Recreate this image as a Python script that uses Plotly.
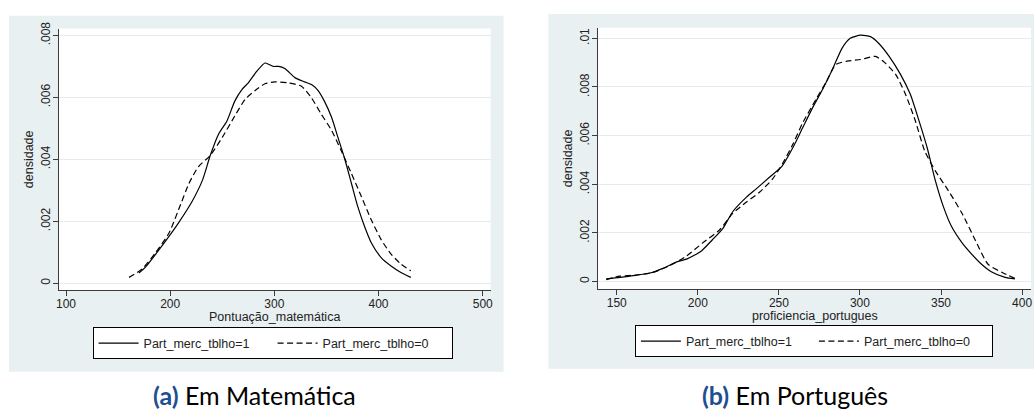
import plotly.graph_objects as go

# ---------------- data ----------------
# Panel (a) Em Matemática
mat_x1 = [170, 176, 187, 199, 208, 221, 231, 238.5, 246.5, 254.5, 262, 269, 275, 283, 291, 294.5,
          299, 304, 310, 320, 329, 336, 342, 348, 355, 361, 367.5, 374, 380, 386.5, 393, 402.5,
          412, 421.5, 431]
mat_y1 = [0.00033, 0.00051, 0.00098, 0.00152, 0.00195, 0.00264, 0.00333, 0.00413, 0.00482, 0.00524,
          0.00588, 0.00626, 0.00647, 0.00684, 0.00711, 0.00707, 0.00700, 0.00700, 0.00693, 0.00663,
          0.00650, 0.00641, 0.00622, 0.00588, 0.00535, 0.00471, 0.00402, 0.00322, 0.00248, 0.00184,
          0.00131, 0.00083, 0.00056, 0.00035, 0.00019]
mat_x0 = [160.5, 173, 186, 199, 208, 218, 227, 238.5, 250, 262, 272, 281.5, 291, 300.5, 313, 326,
          335.5, 345, 355, 364, 374, 383.5, 393, 402.5, 412, 421.5, 431]
mat_y0 = [0.00019, 0.00046, 0.00099, 0.00163, 0.00237, 0.00322, 0.00376, 0.00413, 0.00471, 0.00540,
          0.00594, 0.00622, 0.00644, 0.00650, 0.00647, 0.00636, 0.00599, 0.00546, 0.00493, 0.00429,
          0.00354, 0.00280, 0.00205, 0.00141, 0.00094, 0.00062, 0.00040]

# Panel (b) Em Português
por_x1 = [143.5, 152, 160, 170.5, 178.5, 187, 193, 202, 209, 215.5, 221.5, 230, 236, 244, 252, 258.5,
          264.5, 270.5, 277, 283, 289, 294, 300.5, 306.5, 311.5, 318, 325, 331, 336, 341.5, 346.5,
          351.5, 356.5, 363, 369, 375, 381, 389.5, 395.5]
por_y1 = [0.00011, 0.00017, 0.00024, 0.00035, 0.00054, 0.00081, 0.00092, 0.00125, 0.00172, 0.00219,
          0.00287, 0.00347, 0.00381, 0.00428, 0.00475, 0.00549, 0.00630, 0.00711, 0.00791, 0.00872,
          0.00960, 0.01000, 0.01013, 0.01007, 0.00980, 0.00926, 0.00852, 0.00771, 0.00670, 0.00549,
          0.00415, 0.00307, 0.00226, 0.00159, 0.00112, 0.00071, 0.00040, 0.00017, 0.00011]
por_x0 = [143.5, 152, 162, 172.5, 182.5, 193, 203, 213.5, 221.5, 230, 238, 246, 252, 258.5, 264.5,
          273, 279, 285, 292, 300.5, 309.5, 315.5, 322, 328, 334, 340, 346.5, 354.5, 363, 371, 379,
          387.5, 395.5]
por_y0 = [0.00008, 0.00022, 0.00027, 0.00038, 0.00065, 0.00105, 0.00159, 0.00213, 0.00280, 0.00327,
          0.00367, 0.00421, 0.00482, 0.00563, 0.00650, 0.00751, 0.00818, 0.00892, 0.00906, 0.00913,
          0.00926, 0.00899, 0.00852, 0.00771, 0.00664, 0.00536, 0.00455, 0.00374, 0.00280, 0.00172,
          0.00071, 0.00038, 0.00013]

series_names = ["Part_merc_tblho=1", "Part_merc_tblho=0"]
mat_xticks = [100, 200, 300, 400, 500]
mat_yticks = [0, 0.002, 0.004, 0.006, 0.008]
mat_yticktext = ["0", ".002", ".004", ".006", ".008"]
por_xticks = [150, 200, 250, 300, 350, 400]
por_yticks = [0, 0.002, 0.004, 0.006, 0.008, 0.01]
por_yticktext = ["0", ".002", ".004", ".006", ".008", ".01"]
x_titles = ["Pontuação_matemática", "proficiencia_portugues"]
y_title = "densidade"
captions = ["(a)", "Em Matemática", "(b)", "Em Português"]

# ---------------- figure ----------------
W, H = 1036, 409
FONT = "Liberation Sans, Arial, sans-serif"
BG = "#e9f0f2"
GRID = "#e4ecef"
AX = "#3c3c3c"


def px(x):
    return x / W


def py(y):
    return (H - y) / H


fig = go.Figure()
solid = dict(color="black", width=1.2, shape="spline", smoothing=0.6)
dashed = dict(color="black", width=1.2, dash="6px,3.5px", shape="spline", smoothing=0.6)

fig.add_trace(go.Scatter(x=mat_x1, y=mat_y1, mode="lines", name=series_names[0], line=solid,
                         xaxis="x", yaxis="y", legend="legend"))
fig.add_trace(go.Scatter(x=mat_x0, y=mat_y0, mode="lines", name=series_names[1], line=dashed,
                         xaxis="x", yaxis="y", legend="legend"))
fig.add_trace(go.Scatter(x=por_x1, y=por_y1, mode="lines", name=series_names[0], line=solid,
                         xaxis="x2", yaxis="y2", legend="legend2"))
fig.add_trace(go.Scatter(x=por_x0, y=por_y0, mode="lines", name=series_names[1], line=dashed,
                         xaxis="x2", yaxis="y2", legend="legend2"))

axis_common = dict(showline=True, linecolor=AX, linewidth=1.3, ticks="outside", ticklen=5,
                   tickcolor=AX, tickwidth=1, zeroline=False,
                   tickfont=dict(family=FONT, size=12, color="#222"))
title_font = dict(family=FONT, size=12.5, color="#222")

fig.update_layout(
    width=W, height=H, autosize=False,
    margin=dict(l=0, r=0, t=0, b=0, pad=0),
    paper_bgcolor="white", plot_bgcolor="white",
    xaxis=dict(domain=[px(56), px(490)], range=[93, 507.6], tickvals=mat_xticks,
               showgrid=False, anchor="y", ticklabelstandoff=-3, **axis_common),
    yaxis=dict(domain=[py(288), py(22)], range=[-0.00022, 0.00822], tickvals=mat_yticks,
               ticktext=mat_yticktext, tickangle=-90, showgrid=True, gridcolor=GRID, gridwidth=1,
               anchor="x", ticklabelstandoff=-2,
               title=dict(text=y_title, standoff=2, font=title_font),
               **axis_common),
    xaxis2=dict(domain=[px(598), px(1033)], range=[138.5, 405.5], tickvals=por_xticks,
                showgrid=False, anchor="y2", ticklabelstandoff=-3, **axis_common),
    yaxis2=dict(domain=[py(287), py(21)], range=[-0.00031, 0.01044], tickvals=por_yticks,
                ticktext=por_yticktext, tickangle=-90, showgrid=True, gridcolor=GRID, gridwidth=1,
                anchor="x2", ticklabelstandoff=-2,
                title=dict(text=y_title, standoff=2, font=title_font),
                **axis_common),
    legend=dict(x=px(90), y=py(326), xanchor="left", yanchor="top", orientation="h",
                bgcolor="white", bordercolor="black", borderwidth=1,
                font=dict(family=FONT, size=12.5, color="#222"),
                itemwidth=40, entrywidth=124, tracegroupgap=0),
    legend2=dict(x=px(635), y=py(324), xanchor="left", yanchor="top", orientation="h",
                 bgcolor="white", bordercolor="black", borderwidth=1,
                 font=dict(family=FONT, size=12.5, color="#222"),
                 itemwidth=40, entrywidth=123, tracegroupgap=0),
    shapes=[
        dict(type="rect", xref="paper", yref="paper", x0=px(6), x1=px(503), y0=py(371), y1=py(9),
             fillcolor=BG, line=dict(width=0), layer="below"),
        dict(type="rect", xref="paper", yref="paper", x0=px(548), x1=1.0, y0=py(368), y1=py(7),
             fillcolor=BG, line=dict(width=0), layer="below"),
        dict(type="rect", xref="paper", yref="paper", x0=px(56), x1=px(490), y0=py(288), y1=py(22),
             fillcolor="white", line=dict(width=0), layer="below"),
        dict(type="rect", xref="paper", yref="paper", x0=px(598), x1=px(1033), y0=py(287), y1=py(21),
             fillcolor="white", line=dict(width=0), layer="below"),
    ],
    annotations=[
        dict(xref="paper", yref="paper", x=px(273), y=py(315), xanchor="center", yanchor="middle",
             showarrow=False, text=x_titles[0], font=title_font),
        dict(xref="paper", yref="paper", x=px(816), y=py(314), xanchor="center", yanchor="middle",
             showarrow=False, text=x_titles[1], font=title_font),
        dict(xref="paper", yref="paper", x=px(253), y=py(395), xanchor="center", yanchor="middle",
             showarrow=False,
             text=f"<b><span style='color:#1d4f91'>{captions[0]}</span></b> {captions[1]}",
             font=dict(family="Lato, Open Sans, sans-serif", size=25, color="black")),
        dict(xref="paper", yref="paper", x=px(796), y=py(395), xanchor="center", yanchor="middle",
             showarrow=False,
             text=f"<b><span style='color:#1d4f91'>{captions[2]}</span></b> {captions[3]}",
             font=dict(family="Lato, Open Sans, sans-serif", size=25, color="black")),
    ],
)

fig.write_html("out.html", config={"displayModeBar": False},
               post_script="document.body.style.margin='0';document.body.style.padding='0';"
                           "document.documentElement.style.overflow='hidden';")
